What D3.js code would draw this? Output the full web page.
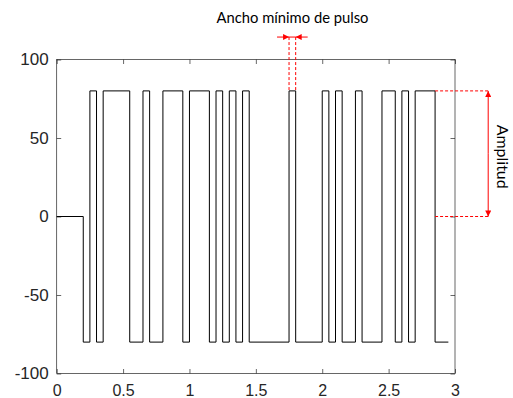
<!DOCTYPE html>
<html>
<head>
<meta charset="utf-8">
<script src="https://cdn.jsdelivr.net/npm/d3@7"></script>
<style>
  html, body { margin: 0; padding: 0; background: #fff; }
  svg { display: block; }
</style>
</head>
<body>
<svg id="chart" width="513" height="398"></svg>
<script>
// ---- Data ----
const stepTimes = [0, 0.2, 0.25, 0.3, 0.35, 0.55, 0.65, 0.7, 0.8, 0.95, 1.0,
                   1.15, 1.2, 1.25, 1.3, 1.35, 1.4, 1.45, 1.75, 1.8, 2.0,
                   2.05, 2.1, 2.15, 2.25, 2.3, 2.45, 2.55, 2.6, 2.65, 2.7,
                   2.85, 2.95];
const stepLevels = [0, -80, 80, -80, 80, -80, 80, -80, 80, -80, 80,
                    -80, 80, -80, 80, -80, 80, -80, 80, -80, 80,
                    -80, 80, -80, 80, -80, 80, -80, 80, -80, 80,
                    -80, -80];
const xTicks = [0, 0.5, 1, 1.5, 2, 2.5, 3];
const xTickLabels = ["0", "0.5", "1", "1.5", "2", "2.5", "3"];
const yTicks = [-100, -50, 0, 50, 100];
const yTickLabels = ["-100", "-50", "0", "50", "100"];

// annotations (data units)
const pulseWidthEdges = [1.75, 1.8];
const pulseTitle = "Ancho mínimo de pulso";
const pulseArrowLevel = 114.3;
const amplitudeLevels = [0, 80];
const amplitudeStart = 2.85;
const amplitudeX = 3.25;
const amplitudeLabel = "Amplitud";

// ---- Layout ----
const svg = d3.select("#chart");
const x = d3.scaleLinear().domain([0, 3]).range([56.7, 455]);
const y = d3.scaleLinear().domain([-100, 100]).range([373.5, 59.5]);
const axisColor = "#262626";
const tickFont = "'Liberation Sans', Arial, Helvetica, sans-serif";
const annFont = "Lato, 'Open Sans', sans-serif";
const red = "#ff0000";

// defs: arrowheads
const defs = svg.append("defs");
defs.append("marker")
  .attr("id", "arrow")
  .attr("viewBox", "0 0 10 10")
  .attr("refX", 10).attr("refY", 5)
  .attr("markerWidth", 7).attr("markerHeight", 6)
  .attr("markerUnits", "userSpaceOnUse")
  .attr("orient", "auto")
  .append("path")
  .attr("d", "M0,0 L10,5 L0,10 Z")
  .attr("fill", red);

// ---- Axes ----
function styleAxis(g, size) {
  g.selectAll("path.domain").remove();
  g.selectAll(".tick line").attr("stroke", axisColor).attr("stroke-width", 0.7);
  g.selectAll(".tick text")
    .attr("fill", axisColor)
    .style("font-family", tickFont)
    .style("font-size", (size || 17) + "px");
}

const xAxis = d3.axisBottom(x).tickValues(xTicks)
  .tickFormat((d, i) => xTickLabels[i]).tickSize(-4.5).tickPadding(11.5);
svg.append("g").attr("transform", `translate(0,${y(-100)})`).call(xAxis).call(styleAxis, 16);

const xAxisTop = d3.axisTop(x).tickValues(xTicks).tickFormat("").tickSize(-4.5);
svg.append("g").attr("transform", `translate(0,${y(100)})`).call(xAxisTop).call(styleAxis);

const yAxis = d3.axisLeft(y).tickValues(yTicks)
  .tickFormat((d, i) => yTickLabels[i]).tickSize(-4.5).tickPadding(8);
svg.append("g").attr("transform", `translate(${x(0)},0)`).call(yAxis).call(styleAxis, 17);

const yAxisRight = d3.axisRight(y).tickValues(yTicks).tickFormat("").tickSize(-4.5);
svg.append("g").attr("transform", `translate(${x(3)},0)`).call(yAxisRight).call(styleAxis);

// box
svg.append("rect")
  .attr("x", x(0)).attr("y", y(100))
  .attr("width", x(3) - x(0)).attr("height", y(-100) - y(100))
  .attr("fill", "none").attr("stroke", axisColor).attr("stroke-width", 0.7);

// ---- Signal ----
const pts = stepTimes.map((t, i) => [t, stepLevels[i]]);
const line = d3.line().x(d => x(d[0])).y(d => y(d[1])).curve(d3.curveStepAfter);
svg.append("path")
  .attr("d", line(pts))
  .attr("fill", "none")
  .attr("stroke", "#000")
  .attr("stroke-width", 1);

// ---- Annotation: pulse width ----
const ann = svg.append("g");
pulseWidthEdges.forEach(t => {
  ann.append("line")
    .attr("x1", x(t)).attr("x2", x(t))
    .attr("y1", y(pulseArrowLevel)).attr("y2", y(80))
    .attr("stroke", red).attr("stroke-width", 1).attr("stroke-dasharray", "3,2");
});
ann.append("line")
  .attr("x1", x(pulseWidthEdges[0]) - 12).attr("x2", x(pulseWidthEdges[0]))
  .attr("y1", y(pulseArrowLevel)).attr("y2", y(pulseArrowLevel))
  .attr("stroke", red).attr("stroke-width", 1).attr("marker-end", "url(#arrow)");
ann.append("line")
  .attr("x1", x(pulseWidthEdges[1]) + 12).attr("x2", x(pulseWidthEdges[1]))
  .attr("y1", y(pulseArrowLevel)).attr("y2", y(pulseArrowLevel))
  .attr("stroke", red).attr("stroke-width", 1).attr("marker-end", "url(#arrow)");
ann.append("line")
  .attr("x1", x(pulseWidthEdges[0])).attr("x2", x(pulseWidthEdges[1]))
  .attr("y1", y(pulseArrowLevel)).attr("y2", y(pulseArrowLevel))
  .attr("stroke", red).attr("stroke-width", 1);

function fit(el, target) {
  const w = el.node().getComputedTextLength();
  const fs = parseFloat(el.style("font-size"));
  el.style("font-size", (fs * target / w).toFixed(2) + "px");
}

const title = ann.append("text")
  .attr("x", 292.5).attr("y", 22.5)
  .attr("text-anchor", "middle")
  .style("font-family", annFont)
  .style("font-size", "15px")
  .attr("fill", "#000")
  .text(pulseTitle);
fit(title, 152);

// ---- Annotation: amplitude ----
amplitudeLevels.forEach(v => {
  ann.append("line")
    .attr("x1", x(amplitudeStart)).attr("x2", x(amplitudeX))
    .attr("y1", y(v)).attr("y2", y(v))
    .attr("stroke", red).attr("stroke-width", 1).attr("stroke-dasharray", "3,2");
});
const ym = (y(amplitudeLevels[0]) + y(amplitudeLevels[1])) / 2;
ann.append("line")
  .attr("x1", x(amplitudeX)).attr("x2", x(amplitudeX))
  .attr("y1", ym).attr("y2", y(amplitudeLevels[1]))
  .attr("stroke", red).attr("stroke-width", 1).attr("marker-end", "url(#arrow)");
ann.append("line")
  .attr("x1", x(amplitudeX)).attr("x2", x(amplitudeX))
  .attr("y1", ym).attr("y2", y(amplitudeLevels[0]))
  .attr("stroke", red).attr("stroke-width", 1).attr("marker-end", "url(#arrow)");

const amp = ann.append("text")
  .attr("transform", `translate(497,156.7) rotate(90)`)
  .attr("text-anchor", "middle")
  .style("font-family", annFont)
  .style("font-size", "15px")
  .attr("fill", "#000")
  .text(amplitudeLabel);
fit(amp, 64);
</script>
</body>
</html>
